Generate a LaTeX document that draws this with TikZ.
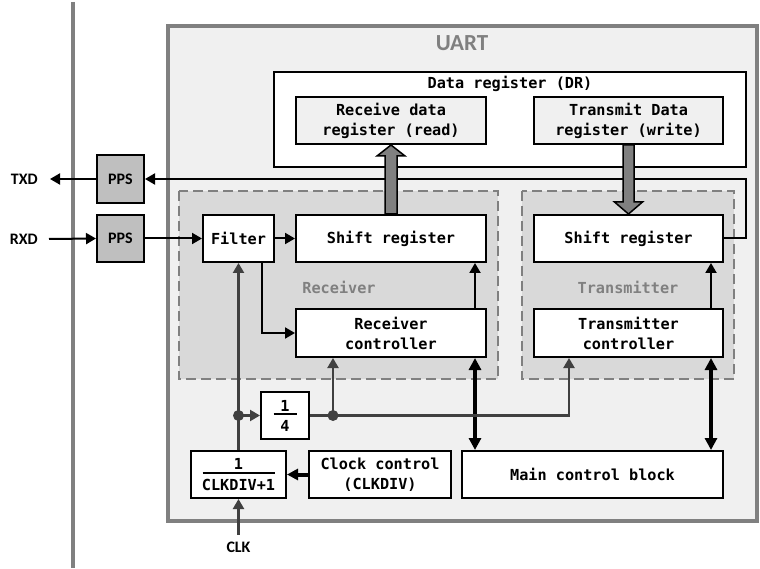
\documentclass[tikz,border=0pt]{standalone}
\usepackage{fontspec}
\setmonofont{DejaVu Sans Mono}
\newfontfamily\lblfont{Carlito}
\usetikzlibrary{arrows.meta,calc}
\definecolor{bord}{HTML}{808080}
\definecolor{outfill}{HTML}{F0F0F0}
\definecolor{regfill}{HTML}{D9D9D9}
\definecolor{ppsfill}{HTML}{BFBFBF}
\definecolor{clkline}{HTML}{404040}
\newcommand\monofnt{\ttfamily\bfseries\fontsize{15.2}{20}\selectfont}
\newcommand\sansfnt{\lblfont\bfseries\fontsize{16}{19}\selectfont}
\begin{document}
\begin{tikzpicture}[x=1pt,y=-1pt,
  box/.style={draw=black, line width=2pt, fill=white, inner sep=0pt, align=center, font=\monofnt},
  ppsbox/.style={box, fill=ppsfill, font=\sansfnt},
  region/.style={draw=bord, line width=2pt, dash pattern=on 10pt off 5pt, fill=regfill},
  lbl/.style={font=\sansfnt, inner sep=0pt},
  arr/.style={line width=2pt, -{Triangle[length=10pt,width=11pt]}},
  garr/.style={draw=clkline, line width=2.2pt, -{Triangle[length=10pt,width=11pt]}, color=clkline},
  bold2/.style={line width=4pt, {Triangle[length=12pt,width=12pt]}-{Triangle[length=12pt,width=12pt]}},
  wide/.style={draw=black, line width=1.5pt, fill=bord, line join=miter}
]
\useasboundingbox (0,0) rectangle (760,569);
% left boundary
\draw[bord, line width=3.5pt] (73,2) -- (73,568);
% UART outer
\draw[draw=bord, fill=outfill, line width=4pt] (168,26) rectangle (757,521);
\node[font=\lblfont\bfseries\fontsize{23}{26}\selectfont, text=bord] (uart) at (462,43) {UART};
% data register
\node[box, minimum width=472pt, minimum height=95pt] (dr) at (510,119.5) {};
\node[font=\monofnt] (drl) at (510,84) {Data register (DR)};
\node[box, fill=outfill, minimum width=190pt, minimum height=47pt] (rdr) at (391,120.5) {Receive data\\register (read)};
\node[box, fill=outfill, minimum width=189pt, minimum height=47pt] (tdr) at (628.5,120.5) {Transmit Data\\register (write)};
% regions
\draw[region] (179,191) rectangle (498,379);
\draw[region] (522,191) rectangle (734,379);
\node[font=\monofnt, text=bord] (rxl) at (339,287) {Receiver};
\node[font=\monofnt, text=bord] (txl) at (628,287) {Transmitter};
% blocks
\node[box, minimum width=71pt, minimum height=47pt] (filter) at (238.5,238.5) {Filter};
\node[box, minimum width=190pt, minimum height=47pt] (rxsr) at (391,238.5) {Shift register};
\node[box, minimum width=189pt, minimum height=47pt] (txsr) at (628.5,238.5) {Shift register};
\node[box, minimum width=190pt, minimum height=48pt] (rxc) at (391,333) {Receiver\\controller};
\node[box, minimum width=189pt, minimum height=48pt] (txc) at (628.5,333) {Transmitter\\controller};
\node[ppsbox, minimum width=47pt, minimum height=48pt] (pps1) at (120.5,179) {PPS};
\node[ppsbox, minimum width=47pt, minimum height=47pt] (pps2) at (120.5,238.5) {PPS};
\node[box, minimum width=48pt, minimum height=47pt] (quarter) at (285,415.5) {1\\[-16pt]\rule{23pt}{2pt}\\[-4pt]4};
\node[box, minimum width=95pt, minimum height=47pt] (clkdiv) at (238.5,474.5) {1\\[-15.5pt]\rule{72pt}{2pt}\\[-3.5pt]CLKDIV+1};
\node[box, minimum width=142pt, minimum height=47pt] (clkctl) at (380,474.5) {Clock control\\(CLKDIV)};
\node[box, minimum width=261pt, minimum height=47pt] (main) at (592.5,474.5) {Main control block};
% outside labels
\node[lbl, anchor=east, inner xsep=12pt] (txd) at (50,179) {TXD};
\node[lbl, anchor=east, inner xsep=11pt] (rxd) at (49,239) {RXD};
\node[lbl, inner ysep=7pt] (clk) at (238.5,547) {CLK};
% helper coordinates
\coordinate (cR) at (475,0);
\coordinate (cT) at (711,0);
\coordinate (fx) at (262,0);
\coordinate (tR) at (746,0);
\coordinate (tc) at (569,0);
\coordinate (d1) at (238.5,415.5);
\coordinate (d2) at (333,415.5);
% data path
\draw[arr] (pps1.west) -- (txd.east);
\draw[arr] (rxd.east) -- (pps2.west);
\draw[arr] (pps2.east) -- (filter.west);
\draw[arr] (filter.east) -- (rxsr.west);
\draw[arr] (filter.south -| fx) -- (fx |- rxc.west) -- (rxc.west);
\draw[arr] (txsr.east) -- (txsr.east -| tR) -- (tR |- pps1.east) -- (pps1.east);
\draw[arr] (rxc.north -| cR) -- (rxsr.south -| cR);
\draw[arr] (txc.north -| cT) -- (txsr.south -| cT);
\draw[bold2] (rxc.south -| cR) -- (main.north -| cR);
\draw[bold2] (txc.south -| cT) -- (main.north -| cT);
\draw[line width=4pt, -{Triangle[length=11pt,width=11pt]}] (clkctl.west) -- (clkdiv.east);
% wide arrows
\draw[wide] ($(rxsr.north)+(-6,0)$) -- ($(rdr.south)+(-6,11)$) -- ($(rdr.south)+(-14,11)$) -- (rdr.south) -- ($(rdr.south)+(14,11)$) -- ($(rdr.south)+(6,11)$) -- ($(rxsr.north)+(6,0)$) -- cycle;
\draw[wide] ($(tdr.south)+(-5.5,0)$) -- ($(txsr.north)+(-5.5,-12)$) -- ($(txsr.north)+(-14,-12)$) -- (txsr.north) -- ($(txsr.north)+(14,-12)$) -- ($(txsr.north)+(5.5,-12)$) -- ($(tdr.south)+(5.5,0)$) -- cycle;
% clock network
\draw[garr] (clk.north) -- (clkdiv.south);
\draw[garr] (clkdiv.north) -- (filter.south);
\draw[garr] (d1) -- (quarter.west);
\draw[garr] (quarter.east) -- (d2) -- (d2 -| tc) -- (tc |- txc.south);
\draw[garr] (d2) -- (d2 |- rxc.south);
\fill[clkline] (d1) circle (5.5pt);
\fill[clkline] (d2) circle (5.5pt);
\end{tikzpicture}
\end{document}
